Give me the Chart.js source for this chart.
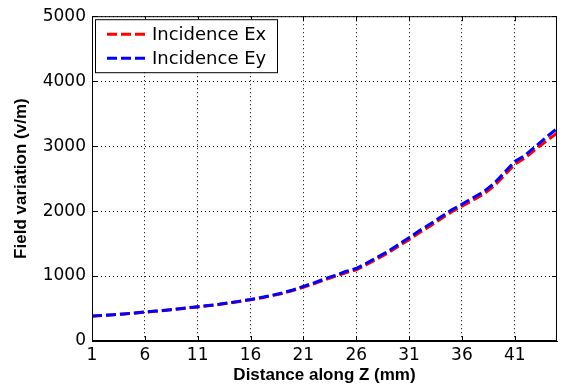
<!DOCTYPE html>
<html>
<head>
<meta charset="utf-8">
<script src="https://cdn.jsdelivr.net/npm/chart.js@4.4.1/dist/chart.umd.min.js"></script>
<style>
  html, body { margin: 0; padding: 0; background: #fff; }
  #wrap { width: 566px; height: 388px; }
</style>
</head>
<body>
<div id="wrap"><canvas id="fieldChart" width="566" height="388"></canvas></div>
<script>
// distance along Z (mm)
const distance = [1, 2, 3, 4, 5, 6, 7, 8, 9, 10, 11, 12, 13, 14, 15, 16, 17, 18, 19, 20,
    21, 22, 23, 24, 25, 26, 27, 28, 29, 30, 31, 32, 33, 34, 35, 36, 37, 38, 39, 40,
    41, 42, 43, 44, 45];

// field values (v/m)
const fieldEx = [380, 392, 403, 415, 428, 444, 457, 472, 489, 506, 524, 542, 561, 585, 609,
    634, 663, 696, 732, 776, 828, 882, 940, 994, 1050, 1095, 1178, 1265, 1355, 1458,
    1560, 1670, 1770, 1878, 1985, 2075, 2165, 2255, 2380, 2545, 2720, 2820, 2955, 3080, 3200];
const fieldEy = [385, 395, 405, 417, 431, 447, 460, 475, 492, 510, 528, 546, 566, 590, 614,
    640, 670, 703, 740, 785, 840, 895, 955, 1010, 1070, 1115, 1200, 1290, 1380, 1485,
    1590, 1700, 1800, 1910, 2015, 2105, 2200, 2290, 2420, 2590, 2765, 2860, 3000, 3140, 3270];

const xTicks = [1, 6, 11, 16, 21, 26, 31, 36, 41];
const yTicks = [0, 1000, 2000, 3000, 4000, 5000];

const seriesNames = ['Incidence Ex', 'Incidence Ey'];
const seriesColors = ['#ff0000', '#0000ff'];

const tickFont = { family: 'DejaVu Sans', size: 17 };
const titleFont = { family: 'Liberation Sans', size: 17, weight: 'bold' };

function toPoints(ys) {
    return distance.map((d, i) => ({ x: d, y: ys[i] }));
}

// box on top/right + inward tick marks, like the original figure
const frameTicks = {
    id: 'frameTicks',
    afterDraw(chart) {
        const { ctx, chartArea: a, scales } = chart;
        ctx.save();
        ctx.strokeStyle = '#000';
        ctx.lineWidth = 1;
        ctx.setLineDash([]);
        ctx.strokeRect(a.left + 0.5, a.top + 0.5, a.right - a.left - 1, a.bottom - a.top - 1);
        const len = 5;
        ctx.beginPath();
        xTicks.forEach(t => {
            const px = Math.round(scales.x.getPixelForValue(t)) + 0.5;
            ctx.moveTo(px, a.bottom); ctx.lineTo(px, a.bottom - len);
            ctx.moveTo(px, a.top); ctx.lineTo(px, a.top + len);
        });
        yTicks.forEach(t => {
            const py = Math.round(scales.y.getPixelForValue(t)) + 0.5;
            ctx.moveTo(a.left, py); ctx.lineTo(a.left + len, py);
            ctx.moveTo(a.right, py); ctx.lineTo(a.right - len, py);
        });
        ctx.stroke();
        ctx.restore();
    }
};

// legend box in the upper left corner of the plot
const boxLegend = {
    id: 'boxLegend',
    afterDraw(chart) {
        const { ctx, chartArea: a } = chart;
        const x0 = a.left + 3, y0 = a.top + 3, w = 182, h = 53;
        ctx.save();
        ctx.fillStyle = '#fff';
        ctx.fillRect(x0, y0, w, h);
        ctx.strokeStyle = '#000';
        ctx.lineWidth = 1;
        ctx.strokeRect(x0 + 0.5, y0 + 0.5, w, h);
        chart.data.datasets.forEach((ds, i) => {
            const y = y0 + 15 + i * 24;
            ctx.strokeStyle = ds.borderColor;
            ctx.lineWidth = 3;
            ctx.setLineDash([10, 4]);
            ctx.beginPath();
            ctx.moveTo(x0 + 12, y);
            ctx.lineTo(x0 + 54, y);
            ctx.stroke();
            ctx.setLineDash([]);
            ctx.fillStyle = '#000';
            ctx.font = '18px "DejaVu Sans"';
            ctx.textBaseline = 'middle';
            ctx.fillText(ds.label, x0 + 57, y + 1);
        });
        ctx.restore();
    }
};

const ctx = document.getElementById('fieldChart').getContext('2d');
new Chart(ctx, {
    type: 'line',
    data: {
        datasets: [
            {
                label: seriesNames[0],
                data: toPoints(fieldEx),
                borderColor: seriesColors[0],
                borderWidth: 3,
                borderDash: [10, 4],
                pointRadius: 0,
                fill: false,
                order: 1
            },
            {
                label: seriesNames[1],
                data: toPoints(fieldEy),
                borderColor: seriesColors[1],
                borderWidth: 3,
                borderDash: [10, 4],
                pointRadius: 0,
                fill: false,
                order: 0
            }
        ]
    },
    options: {
        responsive: false,
        animation: false,
        layout: { padding: { top: 15, right: 9, left: 0, bottom: 0 } },
        plugins: {
            legend: { display: false },
            tooltip: { enabled: false }
        },
        scales: {
            x: {
                type: 'linear',
                min: 1,
                max: 45,
                afterBuildTicks: scale => { scale.ticks = xTicks.map(v => ({ value: v })); },
                afterFit: scale => { scale.height = 47; },
                ticks: { color: '#000', font: tickFont, padding: 4, maxRotation: 0,
                    callback: v => String(v) },
                grid: { color: '#000', lineWidth: 1, drawTicks: false },
                border: { display: true, color: '#000', dash: [1, 3] },
                title: {
                    display: true,
                    text: 'Distance along Z (mm)',
                    color: '#000',
                    font: titleFont,
                    padding: { top: 0, bottom: 2 }
                }
            },
            y: {
                min: 0,
                max: 5000,
                afterBuildTicks: scale => { scale.ticks = yTicks.map(v => ({ value: v })); },
                afterFit: scale => { scale.width = 92; },
                ticks: { color: '#000', font: tickFont, padding: 6,
                    callback: v => String(v) },
                grid: { color: '#000', lineWidth: 1, drawTicks: false },
                border: { display: true, color: '#000', dash: [1, 3] },
                title: {
                    display: true,
                    text: 'Field variation (v/m)',
                    color: '#000',
                    font: titleFont,
                    padding: { top: 11, bottom: 0 }
                }
            }
        }
    },
    plugins: [frameTicks, boxLegend]
});
</script>
</body>
</html>
